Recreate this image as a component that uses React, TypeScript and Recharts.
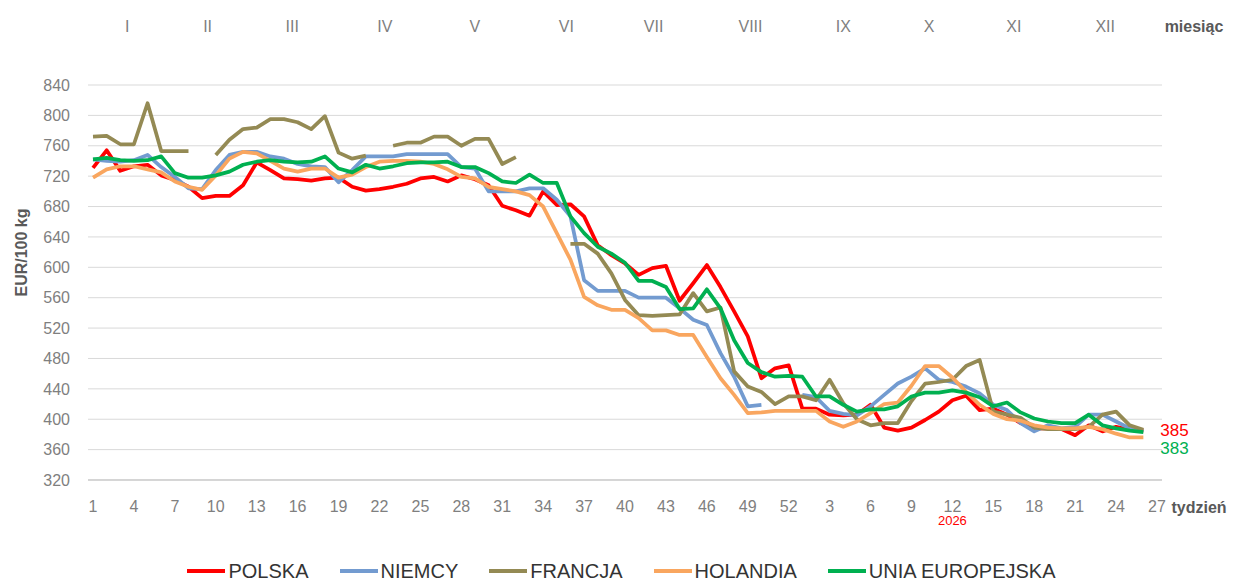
import React from 'react';
import { LineChart, Line, XAxis, YAxis, CartesianGrid, LabelList } from 'recharts';

// tydzień: 2025 (1-52) i 2026 (1-27)
const weekLabels = [
  1, 2, 3, 4, 5, 6, 7, 8, 9, 10, 11, 12, 13, 14, 15, 16, 17, 18, 19, 20,
  21, 22, 23, 24, 25, 26, 27, 28, 29, 30, 31, 32, 33, 34, 35, 36, 37, 38, 39, 40,
  41, 42, 43, 44, 45, 46, 47, 48, 49, 50, 51, 52,
  1, 2, 3, 4, 5, 6, 7, 8, 9, 10, 11, 12, 13, 14, 15, 16, 17, 18, 19, 20,
  21, 22, 23, 24, 25, 26, 27,
];
const weekTickIdx = [0, 3, 6, 9, 12, 15, 18, 21, 24, 27, 30, 33, 36, 39, 42, 45, 48, 51, 54, 57, 60, 63, 66, 69, 72, 75, 78];
const yearMarkIdx = 63;
const yearMark = '2026';

const monthNames = ['I', 'II', 'III', 'IV', 'V', 'VI', 'VII', 'VIII', 'IX', 'X', 'XI', 'XII'];
const monthPos = [2.5, 8.4, 14.6, 21.4, 28, 34.7, 41.1, 48.2, 55, 61.3, 67.5, 74.2];

const yTicks = [320, 360, 400, 440, 480, 520, 560, 600, 640, 680, 720, 760, 800, 840];

const polska = [
  731, 754, 727, 733, 735, 721, 715, 706, 691, 694,
  694, 708, 738, 728, 717, 716, 714, 717, 718, 706,
  701, 703, 706, 710, 717, 719, 713, 721, 716, 708,
  681, 675, 668, 700, 682, 683, 667, 629, 616, 605,
  590, 599, 602, 556, 579, 603, 574, 542, 509, 454,
  467, 471, 414, 414, 406, 405, 406, 419, 389, 385,
  389, 399, 410, 425, 431, 412, 414, 406, 395, 388,
  388, 387, 379, 392, 384, 390, 386, 385,
];
const niemcy = [
  742, 740, 739, 741, 748, 732, 719, 704, 703, 728,
  748, 752, 752, 746, 743, 736, 733, 732, 712, 728,
  746, 746, 746, 749, 749, 749, 749, 732, 730, 700,
  700, 700, 704, 704, 689, 667, 583, 569, 569, 569,
  560, 560, 560, 546, 531, 524, 487, 456, 417, 419,
  null, null, 432, 429, 411, 407, 405, 417, 432, 447,
  456, 467, 452, 449, 443, 434, 419, 412, 395, 384,
  392, 388, 390, 406, 406, 397, 388, 384,
];
const francja = [
  772, 773, 762, 762, 816, 753, 753, 753, null, 748,
  768, 782, 784, 795, 795, 791, 782, 799, 751, 743,
  747, null, 760, 764, 764, 772, 772, 760, 769, 769,
  736, 745, null, null, null, 631, 631, 618, 592, 557,
  537, 536, 537, 538, 566, 542, 547, 463, 443, 436,
  420, 430, 430, 425, 452, 421, 400, 392, 395, 395,
  424, 447, 449, 452, 470, 478, 410, 406, 402, 389,
  387, 387, 387, 390, 406, 410, 392, 386,
];
const holandia = [
  718, 729, 733, 733, 729, 725, 713, 706, 702, 721,
  743, 752, 750, 740, 730, 726, 730, 730, 718, 722,
  732, 739, 740, 740, 739, 736, 729, 719, 717, 706,
  703, 700, 695, 680, 645, 610, 561, 550, 544, 544,
  533, 517, 517, 511, 511, 482, 454, 432, 408, 409,
  411, 411, 411, 411, 397, 390, 397, 408, 420, 422,
  444, 470, 470, 455, 436, 419, 407, 400, 398, 392,
  389, 388, 388, 390, 387, 381, 376, 376,
];
const ue = [
  742, 744, 741, 740, 741, 746, 724, 718, 718, 721,
  726, 735, 739, 741, 739, 738, 739, 746, 730, 725,
  735, 730, 733, 737, 738, 738, 739, 732, 732, 724,
  713, 711, 722, 711, 711, 667, 645, 627, 618, 606,
  582, 582, 574, 545, 546, 571, 546, 504, 474, 462,
  456, 457, 456, 430, 430, 419, 410, 413, 413, 417,
  430, 435, 435, 438, 435, 429, 417, 422, 409, 401,
  397, 395, 395, 406, 392, 388, 385, 383,
];

const series = [
  { key: 'polska', name: 'POLSKA', color: '#ff0000', values: polska },
  { key: 'niemcy', name: 'NIEMCY', color: '#739bd0', values: niemcy },
  { key: 'francja', name: 'FRANCJA', color: '#948a54', values: francja },
  { key: 'holandia', name: 'HOLANDIA', color: '#f9a65f', values: holandia },
  { key: 'ue', name: 'UNIA EUROPEJSKA', color: '#00b050', values: ue },
];

const lastIdx = polska.length - 1;

const data = weekLabels.map((w, i) => {
  const row: any = { idx: i, week: w };
  series.forEach(s => { row[s.key] = s.values[i] ?? null; });
  return row;
});

const FONT = '"Liberation Sans", Arial, sans-serif';
const tickGray = '#7f7f7f';
const titleGray = '#595959';

const WeekTick = ({ x, y, payload }: any) => {
  const idx = payload.value;
  return (
    <g>
      <text x={x} y={y} dy="0.71em" textAnchor="middle" fill={tickGray} fontSize={16} fontFamily={FONT}>
        {weekLabels[idx]}
      </text>
      {idx === yearMarkIdx && (
        <text x={x} y={y + 15} dy="0.71em" textAnchor="middle" fill="#ff0000" fontSize={13} fontFamily={FONT}>
          {yearMark}
        </text>
      )}
    </g>
  );
};

const AxisEndTitle = ({ viewBox, text, dx, dy }: any) => {
  if (!viewBox) return null;
  return (
    <text x={viewBox.x + viewBox.width + dx} y={viewBox.y + dy} textAnchor="middle"
      fill={titleGray} fontSize={16} fontWeight="bold" fontFamily={FONT}>
      {text}
    </text>
  );
};

const YTitle = ({ viewBox }: any) => {
  if (!viewBox) return null;
  const cx = viewBox.x + 21;
  const cy = viewBox.y + viewBox.height / 2 - 30;
  return (
    <text x={cx} y={cy} transform={`rotate(-90, ${cx}, ${cy})`} textAnchor="middle" dominantBaseline="central"
      fill={titleGray} fontSize={16} fontWeight="bold" fontFamily={FONT}>
      EUR/100 kg
    </text>
  );
};

const endLabel = (color: string, shift: number) => (props: any) => {
  const { x, y, index, value } = props;
  if (index !== lastIdx || value == null) return null;
  return (
    <text x={x + 17} y={y + shift} fill={color} fontSize={17} dominantBaseline="central" fontFamily={FONT}>
      {value}
    </text>
  );
};

export default function App() {
  return (
    <div style={{ position: 'absolute', left: 0, top: 0, width: 1235, height: 580, fontFamily: FONT, background: '#fff' }}>
      <LineChart width={1235} height={580} data={data} margin={{ top: 5, right: 73, bottom: 60, left: 0 }}>
        <CartesianGrid vertical={false} stroke="#d9d9d9" />
        <XAxis
          xAxisId="month"
          orientation="top"
          type="number"
          domain={[0, 78]}
          allowDataOverflow
          ticks={monthPos}
          interval={0}
          tickFormatter={(v: number) => monthNames[monthPos.indexOf(v)]}
          padding={{ left: 5, right: 5 }}
          height={80}
          axisLine={false}
          tickLine={false}
          tickMargin={47}
          tick={{ fill: tickGray, fontSize: 16, fontFamily: FONT }}
          label={<AxisEndTitle text="miesiąc" dx={32} dy={27} />}
        />
        <XAxis
          dataKey="idx"
          type="number"
          domain={[0, 78]}
          ticks={weekTickIdx}
          interval={0}
          padding={{ left: 5, right: 5 }}
          height={40}
          axisLine={{ stroke: '#bfbfbf', strokeWidth: 1 }}
          tickLine={false}
          tickMargin={15}
          tick={<WeekTick />}
          label={<AxisEndTitle text="tydzień" dx={37} dy={33} />}
        />
        <YAxis
          domain={[320, 840]}
          ticks={yTicks}
          interval={0}
          width={88}
          axisLine={false}
          tickLine={false}
          tickMargin={12}
          tick={{ fill: tickGray, fontSize: 16, fontFamily: FONT }}
          label={<YTitle />}
        />
        {series.map(s => (
          <Line
            key={s.key}
            type="linear"
            dataKey={s.key}
            name={s.name}
            stroke={s.color}
            strokeWidth={3.75}
            strokeLinejoin="round"
            dot={false}
            activeDot={false}
            connectNulls={false}
            isAnimationActive={false}
          >
            {s.key === 'polska' && <LabelList dataKey={s.key} content={endLabel(s.color, 0)} />}
            {s.key === 'ue' && <LabelList dataKey={s.key} content={endLabel(s.color, 16)} />}
          </Line>
        ))}
      </LineChart>
      <div style={{
        position: 'absolute', top: 559, left: 4, width: 1235, display: 'flex', justifyContent: 'center',
        gap: 31, fontSize: 20, color: '#333', lineHeight: '24px',
      }}>
        {series.map(s => (
          <div key={s.key} style={{ display: 'flex', alignItems: 'center' }}>
            <span style={{ display: 'inline-block', width: 38, height: 4, background: s.color, marginRight: 3 }} />
            {s.name}
          </div>
        ))}
      </div>
    </div>
  );
}
